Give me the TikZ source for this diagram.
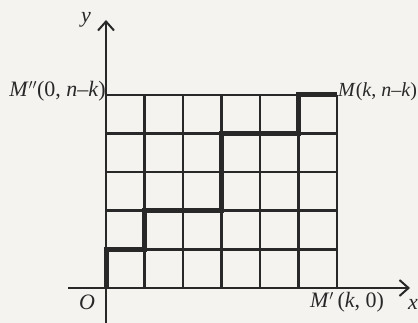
\documentclass[tikz,border=0pt]{standalone}
\usepackage{fontspec}
\setmainfont{Liberation Serif}
\usetikzlibrary{arrows.meta}
\definecolor{paper}{RGB}{244,243,240}
\definecolor{ink}{RGB}{40,40,40}
\tikzset{
  gridline/.style={draw=ink, line width=2.6pt},
  axisline/.style={draw=ink, line width=2pt, -{Straight Barb[length=9pt,width=16pt,line width=2pt]}},
  pathline/.style={draw=ink, line width=5pt, line cap=square, line join=miter},
  lbl/.style={text=ink, font=\fontsize{22}{22}\selectfont, inner sep=0pt}
}
\begin{document}
\begin{tikzpicture}[x=1pt,y=-1pt]
\fill[paper] (0,0) rectangle (418,323);
\useasboundingbox (0,0) rectangle (418,323);
% grid
\foreach \i in {1,...,6} \draw[gridline] (106+\i*38.5,288) -- (106+\i*38.5,95);
\foreach \j in {1,...,5} \draw[gridline] (106,288-\j*38.6) -- (337,288-\j*38.6);
% axes
\coordinate (xs) at (68,288);
\coordinate (xe) at (410,288);
\coordinate (ys) at (106,323);
\coordinate (ye) at (106,20);
\draw[axisline] (xs) -- (xe);
\draw[axisline] (ys) -- (ye);
% path
\coordinate (p0) at (106,288);
\draw[pathline] (p0) -- ++(0,-38.6) -- ++(38.5,0) -- ++(0,-38.6) -- ++(77,0) -- ++(0,-77.2) -- ++(77,0) -- ++(0,-38.6) -- ++(38.5,0);
% labels
\node[lbl, anchor=base] (ylab) at (86,23) {\textit{y}};
\node[lbl, anchor=base] (xlab) at (413,309) {\textit{x}};
\node[lbl, anchor=base] (olab) at (87,309) {\textit{O}};
\node[lbl, anchor=base] (mp) at (347,308) {\textit{M}$'$\,(\textit{k}, 0)};
\node[lbl, anchor=base east] (mpp) at (106,97) {\textit{M}$''$(0, \textit{n}–\textit{k})};
\node[lbl, anchor=base west, font=\fontsize{20}{20}\selectfont] (m) at (338,97) {\textit{M}(\textit{k}, \textit{n}–\textit{k})};
\end{tikzpicture}
\end{document}
